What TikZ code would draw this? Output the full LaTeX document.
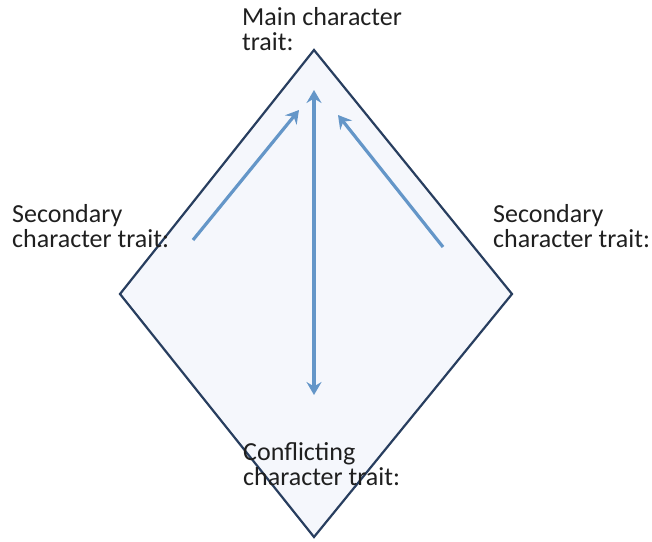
\documentclass[tikz,border=0pt]{standalone}
\usepackage{fontspec}
\setmainfont{Carlito}
\usetikzlibrary{arrows.meta}
\definecolor{edgeblue}{RGB}{40,62,95}
\definecolor{arrowblue}{RGB}{100,150,200}
\definecolor{fillblue}{RGB}{245,247,252}
\tikzset{
  label text/.style={anchor=north west, align=left, inner sep=0pt,
    font=\fontsize{26}{25}\selectfont, text=black!88},
  tip/.tip={Stealth[length=13pt,width=15pt,inset=4.5pt]},
  link/.style={draw=arrowblue, line width=3.2pt, -tip},
}
\begin{document}
\begin{tikzpicture}[x=1pt,y=-1pt]
  \useasboundingbox (0,0) rectangle (652,541);
  % diamond corners
  \coordinate (top) at (314,50);
  \coordinate (left) at (120,294);
  \coordinate (right) at (512,294);
  \coordinate (bottom) at (314,537);
  \draw[edgeblue, line width=2.2pt, fill=fillblue, line join=miter]
    (top) -- (right) -- (bottom) -- (left) -- cycle;
  % arrow end points
  \coordinate (vtop) at (314,90);
  \coordinate (vbot) at (314,395);
  \coordinate (lstart) at (193,240);
  \coordinate (lend) at (299,110);
  \coordinate (rstart) at (443,247);
  \coordinate (rend) at (338,115);
  \draw[link, tip-tip] (vbot) -- (vtop);
  \draw[link] (lstart) -- (lend);
  \draw[link] (rstart) -- (rend);
  % labels
  \node[label text] (main) at (242,7) {Main character\\trait:};
  \node[label text] (secl) at (12,204) {Secondary\\character trait:};
  \node[label text] (secr) at (493,204) {Secondary\\character trait:};
  \node[label text] (conf) at (243,442) {Conflicting\\character trait:};
\end{tikzpicture}
\end{document}
